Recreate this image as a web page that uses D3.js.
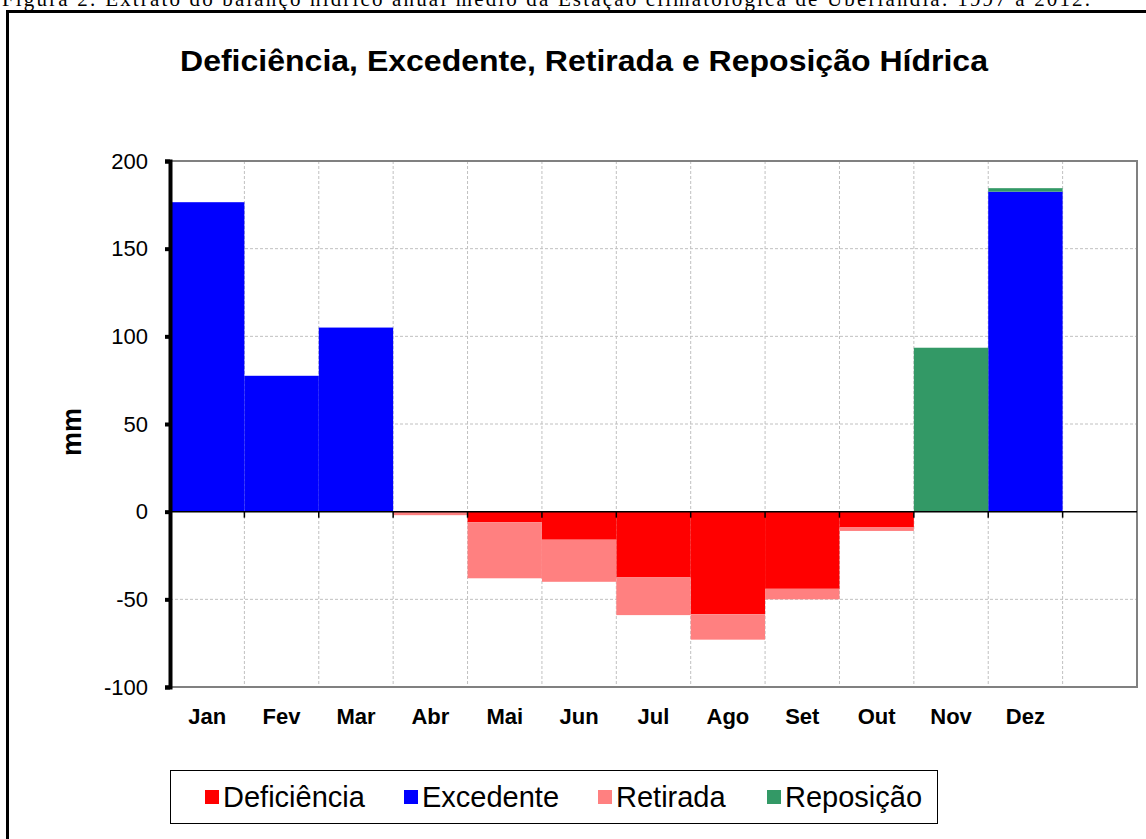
<!DOCTYPE html>
<html>
<head>
<meta charset="utf-8">
<script src="https://cdn.jsdelivr.net/npm/d3@7"></script>
<style>
  body { margin: 0; background: #fff; }
  text { font-family: Arial, "Liberation Sans", sans-serif; }
</style>
</head>
<body>
<svg id="chart" width="1146" height="839"></svg>
<script>
// month labels (13th slot is empty in the original chart)
const months = ["Jan", "Fev", "Mar", "Abr", "Mai", "Jun", "Jul", "Ago", "Set", "Out", "Nov", "Dez", ""];

// series values in mm
const deficiencia = [0, 0, 0, 0, -6, -16, -37.5, -58.5, -44, -9, 0, 0, 0];
const excedente   = [176.5, 77.5, 105, 0, 0, 0, 0, 0, 0, 0, 0, 182.5, 0];
const retirada    = [0, 0, 0, -2, -32, -24, -21.5, -14.5, -6, -2, 0, 0, 0];
const reposicao   = [0, 0, 0, 0, 0, 0, 0, 0, 0, 0, 93.5, 2, 0];

const seriesNames = ["Deficiência", "Excedente", "Retirada", "Reposição"];
const yTicks = [200, 150, 100, 50, 0, -50, -100];

const colors = {
  "Deficiência": "#ff0000",
  "Excedente": "#0000ff",
  "Retirada": "#ff8080",
  "Reposição": "#339966"
};

const svg = d3.select("#chart");

// caption of the figure, cut off at the top of the picture
svg.append("text")
  .attr("x", 2)
  .attr("y", 6)
  .attr("textLength", 1088)
  .style("font-family", "'Liberation Serif', 'Times New Roman', serif")
  .style("font-size", "21px")
  .text("Figura 2: Extrato do balanço hídrico anual médio da Estação climatológica de Uberlândia: 1997 a 2012.");

// outer frame of the chart
svg.append("rect")
  .attr("x", 7.5)
  .attr("y", 11.5)
  .attr("width", 1150)
  .attr("height", 840)
  .attr("fill", "none")
  .attr("stroke", "#000")
  .attr("stroke-width", 3);

// title
svg.append("text")
  .attr("x", 584)
  .attr("y", 71)
  .attr("text-anchor", "middle")
  .attr("textLength", 808)
  .attr("lengthAdjust", "spacingAndGlyphs")
  .style("font-size", "30px")
  .style("font-weight", "bold")
  .text("Deficiência, Excedente, Retirada e Reposição Hídrica");

const plotLeft = 170, plotRight = 1137, plotTop = 161, plotBottom = 687;

const x = d3.scaleBand()
  .domain(d3.range(months.length))
  .range([plotLeft, plotRight])
  .padding(0);

const y = d3.scaleLinear()
  .domain([-100, 200])
  .range([plotBottom, plotTop]);

// gridlines
const grid = svg.append("g");
grid.selectAll(".hgrid")
  .data(yTicks.filter(v => v !== 200 && v !== -100 && v !== 0))
  .enter()
  .append("line")
  .attr("x1", plotLeft).attr("x2", plotRight)
  .attr("y1", d => y(d)).attr("y2", d => y(d))
  .attr("stroke", "#c0c0c0")
  .attr("stroke-dasharray", "3,2");

grid.selectAll(".vgrid")
  .data(d3.range(1, months.length))
  .enter()
  .append("line")
  .attr("x1", d => x(d)).attr("x2", d => x(d))
  .attr("y1", plotTop).attr("y2", plotBottom)
  .attr("stroke", "#c0c0c0")
  .attr("stroke-dasharray", "3,2");

// stacked data
const table = months.map((m, i) => ({
  "Deficiência": deficiencia[i],
  "Excedente": excedente[i],
  "Retirada": retirada[i],
  "Reposição": reposicao[i]
}));

const stack = d3.stack()
  .keys(seriesNames)
  .offset(d3.stackOffsetDiverging);

const layers = svg.append("g")
  .selectAll("g")
  .data(stack(table))
  .enter()
  .append("g")
  .attr("fill", d => colors[d.key]);

layers.selectAll("rect")
  .data(d => d.map((v, i) => ({ v, i })))
  .enter()
  .append("rect")
  .attr("x", d => x(d.i))
  .attr("width", x.bandwidth())
  .attr("y", d => y(Math.max(d.v[0], d.v[1])))
  .attr("height", d => Math.abs(y(d.v[0]) - y(d.v[1])));

// plot area border (top, right, bottom)
svg.append("path")
  .attr("d", `M${plotLeft},${plotTop}H${plotRight}V${plotBottom}H${plotLeft}`)
  .attr("fill", "none")
  .attr("stroke", "#808080")
  .attr("stroke-width", 2);

// zero line with ticks
svg.append("line")
  .attr("x1", plotLeft).attr("x2", plotRight)
  .attr("y1", y(0)).attr("y2", y(0))
  .attr("stroke", "#000")
  .attr("stroke-width", 1.5);

svg.append("g")
  .selectAll("line")
  .data(d3.range(1, months.length))
  .enter()
  .append("line")
  .attr("x1", d => x(d)).attr("x2", d => x(d))
  .attr("y1", y(0)).attr("y2", y(0) + 6)
  .attr("stroke", "#000")
  .attr("stroke-width", 1.5);

// y axis
const yAxis = svg.append("g")
  .attr("transform", `translate(${plotLeft},0)`)
  .call(d3.axisLeft(y).tickValues(yTicks).tickSize(5).tickPadding(17)
    .tickFormat(d => String(d)));

yAxis.select(".domain")
  .attr("stroke", "#000")
  .attr("stroke-width", 4);
yAxis.selectAll(".tick line")
  .attr("stroke", "#000")
  .attr("stroke-width", 4);
yAxis.selectAll(".tick text")
  .style("font-family", "Arial, 'Liberation Sans', sans-serif")
  .style("font-size", "22px")
  .attr("fill", "#000");

// month labels
svg.append("g")
  .selectAll("text")
  .data(months)
  .enter()
  .append("text")
  .attr("x", (d, i) => x(i) + x.bandwidth() / 2)
  .attr("y", 724)
  .attr("text-anchor", "middle")
  .style("font-size", "22px")
  .style("font-weight", "bold")
  .text(d => d);

// y axis title
svg.append("text")
  .attr("transform", "translate(81,432) rotate(-90)")
  .attr("text-anchor", "middle")
  .style("font-size", "27px")
  .style("font-weight", "bold")
  .text("mm");

// legend
const legend = svg.append("g");
legend.append("rect")
  .attr("x", 170.5)
  .attr("y", 770.5)
  .attr("width", 767)
  .attr("height", 53)
  .attr("fill", "#fff")
  .attr("stroke", "#000")
  .attr("stroke-width", 1);

const legendX = [205, 404, 598, 767];
const item = legend.selectAll(".item")
  .data(seriesNames)
  .enter()
  .append("g")
  .attr("transform", (d, i) => `translate(${legendX[i]},797)`);

item.append("rect")
  .attr("x", 0)
  .attr("y", -7)
  .attr("width", 14)
  .attr("height", 14)
  .attr("fill", d => colors[d]);

item.append("text")
  .attr("x", 18)
  .attr("y", 10)
  .style("font-size", "29px")
  .text(d => d);
</script>
</body>
</html>
